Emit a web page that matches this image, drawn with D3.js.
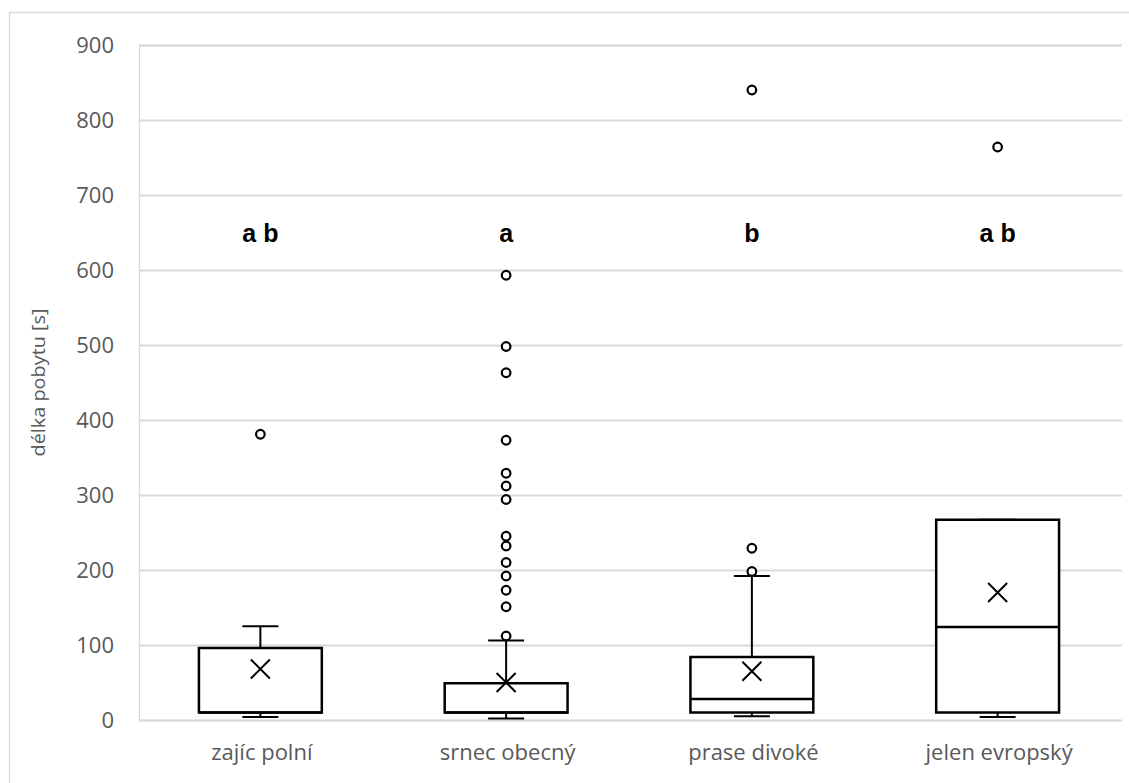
<!DOCTYPE html>
<html>
<head>
<meta charset="utf-8">
<script src="https://cdn.jsdelivr.net/npm/d3@7"></script>
<style>
  html, body { margin: 0; padding: 0; background: #fff; }
  svg { display: block; }
  .tick text { font-family: "Open Sans", sans-serif; fill: #595959; }
</style>
</head>
<body>
<svg id="chart" width="1129" height="783"></svg>
<script>
// values
const categories = ['zajíc polní', 'srnec obecný', 'prase divoké', 'jelen evropský']
const whiskerLow = [4, 2, 5, 4]
const q1 = [10, 10, 10, 10]
const median = [10, 10, 28, 124]
const q3 = [96, 49, 84, 267]
const whiskerHigh = [125, 106, 192, 267]
const means = [68, 50, 65, 170]
const outliers = [
    [381],
    [112, 151, 173, 192, 210, 232, 245, 294, 312, 329, 373, 463, 498, 593],
    [198, 229, 840],
    [764]
]
const groupLetters = ['a b', 'a', 'b', 'a b']
const yTicks = [0, 100, 200, 300, 400, 500, 600, 700, 800, 900]

const GRID = '#d9d9d9'
const TEXT = '#595959'

const svg = d3.select('#chart')
const margin = {left: 139, right: 1122, top: 45, bottom: 720}

// outer chart frame
svg.append('rect')
    .attr('x', 9.5).attr('y', 12.5)
    .attr('width', 1140).attr('height', 800)
    .attr('fill', 'none').attr('stroke', GRID).attr('stroke-width', 1.3)

const x = d3.scaleBand().domain(categories).range([margin.left, margin.right]).padding(0)
const y = d3.scaleLinear().domain([0, 900]).range([margin.bottom, margin.top])

// gridlines + y labels
const yAxis = svg.append('g')
    .attr('transform', `translate(${margin.left},0)`)
    .call(d3.axisLeft(y).tickValues(yTicks).tickSize(-(margin.right - margin.left)).tickPadding(25))
yAxis.select('.domain').attr('stroke', GRID).attr('stroke-width', 1.3)
yAxis.selectAll('.tick line').attr('stroke', GRID).attr('stroke-width', 2)
yAxis.selectAll('.tick text').style('font-size', '22px')

// x axis labels
const xAxis = svg.append('g')
    .attr('transform', `translate(0,${margin.bottom})`)
    .call(d3.axisBottom(x).tickSize(0).tickPadding(24))
xAxis.select('.domain').remove()
xAxis.selectAll('.tick text').style('font-size', '22px')

// y title
svg.append('text')
    .attr('transform', `translate(45,${(margin.top + margin.bottom) / 2}) rotate(-90)`)
    .attr('text-anchor', 'middle')
    .attr('font-family', '"Open Sans", sans-serif')
    .attr('font-size', 19)
    .attr('fill', TEXT)
    .attr('textLength', 148)
    .attr('lengthAdjust', 'spacingAndGlyphs')
    .text('délka pobytu [s]')

const boxW = x.bandwidth() * 0.5
const capW = 36

categories.forEach((c, i) => {
    const cx = x(c) + x.bandwidth() / 2 - 1.5
    const g = svg.append('g')

    // whiskers
    g.append('line')
        .attr('x1', cx).attr('x2', cx)
        .attr('y1', y(whiskerLow[i])).attr('y2', y(q1[i]))
        .attr('stroke', '#000').attr('stroke-width', 2)
    g.append('line')
        .attr('x1', cx).attr('x2', cx)
        .attr('y1', y(whiskerHigh[i])).attr('y2', y(q3[i]))
        .attr('stroke', '#000').attr('stroke-width', 2)
    ;[whiskerLow[i], whiskerHigh[i]].forEach((v) => {
        g.append('line')
            .attr('x1', cx - capW / 2).attr('x2', cx + capW / 2)
            .attr('y1', y(v)).attr('y2', y(v))
            .attr('stroke', '#000').attr('stroke-width', 2)
    })

    // box
    g.append('rect')
        .attr('x', cx - boxW / 2).attr('y', y(q3[i]))
        .attr('width', boxW).attr('height', y(q1[i]) - y(q3[i]))
        .attr('fill', '#fff').attr('stroke', '#000').attr('stroke-width', 2.5)
    g.append('line')
        .attr('x1', cx - boxW / 2).attr('x2', cx + boxW / 2)
        .attr('y1', y(median[i])).attr('y2', y(median[i]))
        .attr('stroke', '#000').attr('stroke-width', 2.5)

    // mean marker
    const my = y(means[i])
    const s = 9.5
    g.append('path')
        .attr('d', `M${cx - s},${my - s}L${cx + s},${my + s}M${cx - s},${my + s}L${cx + s},${my - s}`)
        .attr('stroke', '#000').attr('stroke-width', 2).attr('fill', 'none')

    // outliers
    g.selectAll('circle')
        .data(outliers[i]).enter()
        .append('circle')
            .attr('cx', cx).attr('cy', (d) => y(d))
            .attr('r', 4.3)
            .attr('fill', '#fff').attr('stroke', '#000').attr('stroke-width', 2.2)

    // group letters
    svg.append('text')
        .attr('x', cx).attr('y', y(637))
        .attr('text-anchor', 'middle')
        .attr('font-family', '"Liberation Sans", Arial, sans-serif')
        .attr('font-weight', 'bold')
        .attr('font-size', 25)
        .attr('fill', '#000')
        .text(groupLetters[i])
})
</script>
</body>
</html>
